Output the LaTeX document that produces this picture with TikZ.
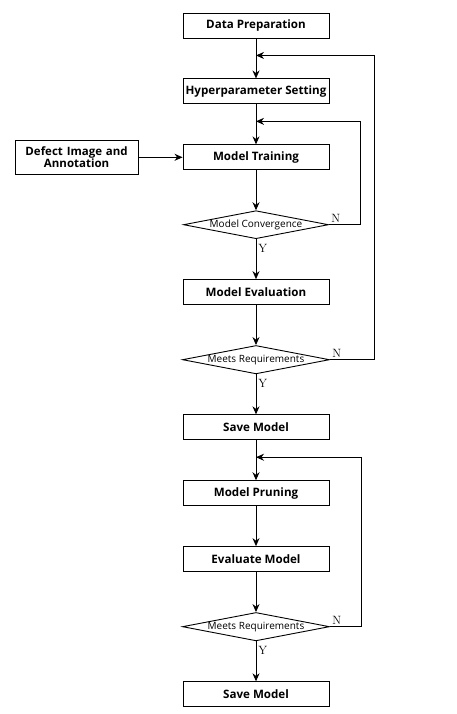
\documentclass[tikz,border=0pt]{standalone}
\usepackage{fontspec}
\setsansfont{Open Sans}
\usetikzlibrary{shapes.geometric, arrows.meta, positioning}

\tikzstyle{stepbox} = [rectangle, minimum width=146pt, minimum height=25pt, inner sep=1pt, text centered, draw=black, line width=0.9pt, font=\sffamily\bfseries\fontsize{11.6}{14}\selectfont]
\tikzstyle{inputbox} = [rectangle, minimum width=123pt, minimum height=34pt, inner sep=1pt, text centered, text width=120pt, draw=black, line width=0.9pt, font=\sffamily\bfseries\fontsize{11.5}{12.5}\selectfont]
\tikzstyle{decision} = [diamond, aspect=5.18, minimum width=145pt, minimum height=28pt, inner sep=0pt, draw=black, line width=0.9pt, font=\sffamily\fontsize{10}{11}\selectfont]
\tikzstyle{yesno} = [font=\fontsize{12}{14}\selectfont, inner sep=2pt]
\tikzstyle{arrow} = [line width=0.9pt, -{Stealth[length=8pt,width=7pt]}]

\begin{document}
\begin{tikzpicture}[x=1pt, y=1pt, node distance=40pt]

    \useasboundingbox (0,0) rectangle (456,-714);

    \node (prep) [stepbox] at (256,-25.5) {Data Preparation};
    \node (hyper) [stepbox, below=of prep] {Hyperparameter Setting};
    \node (train) [stepbox, below=of hyper] {Model Training};
    \node (defect) [inputbox, left=44pt of train] {Defect Image and\\Annotation};
    \node (conv) [decision, below=of train] {Model Convergence};
    \node (evalm) [stepbox, below=of conv] {Model Evaluation};
    \node (meets) [decision, below=of evalm] {Meets Requirements};
    \node (save) [stepbox, below=of meets] {Save Model};

    \node (prune) [stepbox, below=of save] {Model Pruning};
    \node (evalp) [stepbox, below=of prune] {Evaluate Model};
    \node (meetsp) [decision, below=of evalp] {Meets Requirements};
    \node (savep) [stepbox, below=of meetsp] {Save Model};

    % where the feedback lines come back in
    \coordinate (back1) at ([yshift=-17pt]prep.south);
    \coordinate (back2) at ([yshift=-17pt]hyper.south);
    \coordinate (back3) at ([yshift=-17pt]save.south);

    \draw [arrow] (prep) -- (hyper);
    \draw [arrow] (hyper) -- (train);
    \draw [arrow] (defect) -- (train);
    \draw [arrow] (train) -- (conv);
    \draw [arrow] (conv) -- node[yesno, pos=0.22, anchor=west] {Y} (evalm);
    \draw [arrow] (evalm) -- (meets);
    \draw [arrow] (meets) -- node[yesno, pos=0.22, anchor=west] {Y} (save);
    \draw [arrow] (save) -- (prune);
    \draw [arrow] (prune) -- (evalp);
    \draw [arrow] (evalp) -- (meetsp);
    \draw [arrow] (meetsp) -- node[yesno, pos=0.22, anchor=west] {Y} (savep);

    \draw [arrow] (conv.east) node[yesno, anchor=south west] {N} -- ++(31pt,0) |- (back2);
    \draw [arrow] (meets.east) node[yesno, anchor=south west] {N} -- ++(44pt,0) |- (back1);
    \draw [arrow] (meetsp.east) node[yesno, anchor=south west] {N} -- ++(31pt,0) |- (back3);

\end{tikzpicture}
\end{document}
